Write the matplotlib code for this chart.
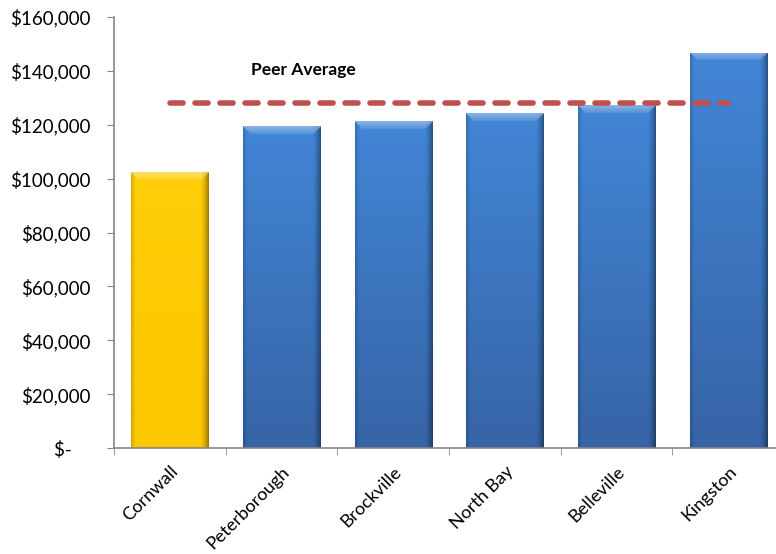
""" Average salary by city, with the peer group average drawn as a dashed line. """

import numpy as np
import matplotlib
matplotlib.use("Agg")
import matplotlib.pyplot as plt
from matplotlib.patches import Rectangle
from matplotlib.ticker import FuncFormatter, FixedLocator

# Chart data.
cities = ["Cornwall", "Peterborough", "Brockville", "North Bay", "Belleville", "Kingston"]
values = [102300, 119400, 121300, 124300, 127200, 146800]
peer_average = 128000
peer_label = "Peer Average"

yellow_top = np.array([255, 206, 8]) / 255.0
yellow_bottom = np.array([252, 198, 0]) / 255.0
blue_top = np.array([66, 134, 214]) / 255.0
blue_bottom = np.array([54, 100, 166]) / 255.0

plt.rcParams['font.family'] = ['Lato', 'DejaVu Sans']
plt.rcParams['lines.scale_dashes'] = False

fig = plt.figure(figsize=(7.76, 5.54), dpi=100)
ax = fig.add_axes([114 / 776, 106 / 554, 670 / 776, 431 / 554])

ymax = 160000
ax.set_xlim(-0.5, len(cities) - 0.5)
ax.set_ylim(0, ymax)

px_per_x = 670 / len(cities)
px_per_y = 431 / ymax
bar_w = 0.69


def bar_image(w, h, top, bottom):
    # Shaded bar: vertical colour ramp, darker sides and a light bevel on top.
    rows = np.linspace(0, 1, h)[:, None, None]
    img = top * (1 - rows) + bottom * rows
    img = np.repeat(img, w, axis=1)
    xs = np.arange(w)
    right = np.clip((xs - (w - 9)) / 9.0, 0, 1)
    left = np.clip((4 - xs) / 4.0, 0, 1)
    shade = 1 - 0.45 * right ** 1.5 - 0.15 * left
    img = img * shade[None, :, None]
    bevel = 8
    for r in range(min(bevel, h)):
        lo, hi = r, w - r
        mix = 0.3 * (1 - r / bevel) + 0.08
        img[r, lo:hi] = img[r, lo:hi] * (1 - mix) + mix
    return np.clip(img, 0, 1)


for i, (city, v) in enumerate(zip(cities, values)):
    x0 = i - bar_w / 2
    rect = Rectangle((x0, 0), bar_w, v, facecolor="none", edgecolor="none")
    ax.add_patch(rect)
    if i == 0:
        top, bottom = yellow_top, yellow_bottom
    else:
        top, bottom = blue_top, blue_bottom
    w = int(round(bar_w * px_per_x))
    h = max(int(round(v * px_per_y)), 2)
    im = ax.imshow(bar_image(w, h, top, bottom), extent=(x0, x0 + bar_w, 0, v),
                   origin="upper", aspect="auto", interpolation="bilinear", zorder=2)
    im.set_clip_path(rect)

ax.set_xlim(-0.5, len(cities) - 0.5)
ax.set_ylim(0, ymax)

# Peer average line from the first to the last city.
ax.plot([0, len(cities) - 1], [peer_average, peer_average], color="#c0504d",
        linewidth=4, linestyle=(0, (9.4, 8.6)), dash_capstyle="round",
        solid_capstyle="round", zorder=3)
ax.text(1.2, 140300, peer_label, ha="center", va="center",
        fontsize=12.5, fontweight="bold", color="black")

# Axes styling.
for side in ["top", "right"]:
    ax.spines[side].set_visible(False)
for side in ["left", "bottom"]:
    ax.spines[side].set_color("#868686")
    ax.spines[side].set_linewidth(1.2)

ax.set_yticks(np.arange(0, ymax + 1, 20000))
ax.yaxis.set_major_formatter(FuncFormatter(
    lambda v, pos: "$-    " if v == 0 else "${:,.0f}".format(v)))
ax.tick_params(axis="y", direction="out", length=5, color="#868686",
               labelsize=13.5, pad=12)

ax.set_xticks(range(len(cities)))
ax.set_xticklabels(cities, rotation=45, ha="right", rotation_mode="anchor")
ax.tick_params(axis="x", which="major", length=0, labelsize=13, pad=11)
ax.xaxis.set_minor_locator(FixedLocator(np.arange(-0.5, len(cities), 1.0)))
ax.tick_params(axis="x", which="minor", direction="out", length=5, color="#868686")

fig.savefig("out.png", dpi=100)
